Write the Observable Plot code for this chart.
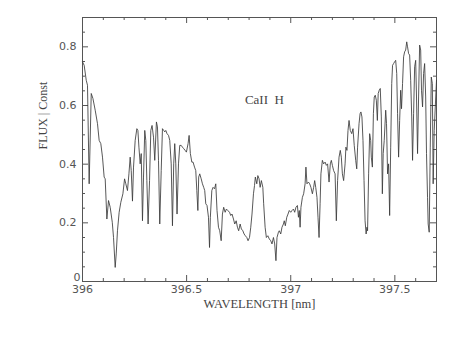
<!DOCTYPE html>
<html>
<head>
<meta charset="utf-8">
<script src="https://cdn.jsdelivr.net/npm/d3@7"></script>
<script src="https://cdn.jsdelivr.net/npm/@observablehq/plot@0.6"></script>
<style>
  html, body { margin: 0; padding: 0; background: #fff; }
  #chart svg { display: block; }
</style>
</head>
<body>
<div id="chart"></div>
<script>
const wavelength = [
396.000,396.008,396.018,396.024,396.032,396.042,396.050,396.061,396.072,396.080,
396.088,396.096,396.104,396.109,396.117,396.125,396.133,396.143,396.149,396.157,
396.162,396.168,396.176,396.184,396.194,396.202,396.208,396.216,396.223,396.229,
396.234,396.240,396.245,396.253,396.261,396.266,396.271,396.277,396.282,396.288,
396.293,396.299,396.304,396.309,396.315,396.322,396.328,396.334,396.341,396.347,
396.355,396.360,396.365,396.371,396.378,396.384,396.390,396.395,396.400,396.406,
396.413,396.419,396.426,396.432,396.438,396.443,396.448,396.454,396.461,396.467,
396.474,396.480,396.486,396.493,396.499,396.507,396.512,396.518,396.525,396.531,
396.538,396.544,396.549,396.554,396.558,396.563,396.570,396.576,396.582,396.587,
396.592,396.598,396.605,396.610,396.614,396.621,396.627,396.634,396.640,396.646,
396.653,396.659,396.666,396.672,396.678,396.685,396.691,396.698,396.706,396.712,
396.718,396.725,396.731,396.738,396.744,396.750,396.757,396.763,396.770,396.776,
396.782,396.789,396.795,396.802,396.808,396.814,396.821,396.826,396.830,396.837,
396.842,396.848,396.853,396.859,396.866,396.870,396.877,396.883,396.890,396.897,
396.904,396.910,396.917,396.923,396.929,396.934,396.941,396.945,396.952,396.958,
396.965,396.969,396.974,396.981,396.987,396.993,397.000,397.006,397.013,397.019,
397.025,397.032,397.037,397.041,397.045,397.049,397.056,397.062,397.069,397.073,
397.078,397.085,397.091,397.097,397.104,397.110,397.115,397.120,397.126,397.131,
397.136,397.141,397.145,397.152,397.158,397.165,397.171,397.177,397.184,397.190,
397.195,397.200,397.206,397.213,397.219,397.225,397.232,397.238,397.243,397.248,
397.254,397.261,397.265,397.270,397.275,397.280,397.286,397.293,397.299,397.305,
397.312,397.317,397.321,397.328,397.333,397.337,397.342,397.347,397.352,397.357,
397.362,397.366,397.369,397.374,397.379,397.384,397.387,397.392,397.397,397.401,
397.406,397.411,397.416,397.420,397.425,397.430,397.435,397.440,397.444,397.449,
397.456,397.460,397.465,397.470,397.475,397.480,397.485,397.489,397.494,397.499,
397.504,397.509,397.513,397.518,397.523,397.528,397.532,397.537,397.542,397.547,
397.552,397.557,397.561,397.566,397.571,397.576,397.581,397.585,397.590,397.595,
397.600,397.604,397.609,397.614,397.619,397.624,397.628,397.633,397.638,397.643,
397.648,397.652,397.657,397.660,397.665,397.670,397.675,397.680,397.684,397.689,
397.700
];
const flux = [
0.749,0.737,0.686,0.669,0.333,0.641,0.624,0.584,0.538,0.481,
0.470,0.424,0.356,0.350,0.213,0.276,0.253,0.202,0.150,0.048,
0.094,0.173,0.236,0.270,0.299,0.350,0.333,0.310,0.367,0.424,
0.378,0.274,0.390,0.481,0.521,0.515,0.458,0.401,0.436,0.207,
0.356,0.515,0.481,0.344,0.196,0.344,0.515,0.532,0.492,0.413,
0.544,0.527,0.413,0.196,0.378,0.521,0.515,0.510,0.515,0.504,
0.498,0.481,0.401,0.190,0.401,0.470,0.401,0.230,0.401,0.464,
0.464,0.458,0.453,0.447,0.441,0.470,0.498,0.436,0.407,0.407,
0.390,0.378,0.310,0.242,0.356,0.367,0.350,0.333,0.321,0.310,
0.265,0.259,0.219,0.116,0.219,0.310,0.321,0.316,0.333,0.242,
0.185,0.173,0.139,0.230,0.253,0.236,0.247,0.242,0.236,0.225,
0.230,0.213,0.196,0.207,0.185,0.173,0.196,0.179,0.173,0.162,
0.156,0.150,0.139,0.150,0.185,0.230,0.299,0.327,0.356,0.333,
0.361,0.350,0.321,0.344,0.321,0.265,0.185,0.150,0.156,0.145,
0.139,0.128,0.150,0.128,0.071,0.150,0.168,0.173,0.162,0.185,
0.196,0.207,0.190,0.219,0.230,0.242,0.236,0.242,0.247,0.236,
0.253,0.259,0.219,0.242,0.185,0.253,0.287,0.299,0.333,0.390,
0.333,0.339,0.333,0.321,0.299,0.321,0.344,0.321,0.287,0.219,
0.150,0.265,0.367,0.413,0.401,0.407,0.396,0.401,0.339,0.401,
0.413,0.396,0.378,0.367,0.207,0.344,0.424,0.447,0.424,0.367,
0.344,0.401,0.458,0.447,0.515,0.549,0.515,0.504,0.521,0.464,
0.413,0.384,0.458,0.538,0.572,0.578,0.561,0.481,0.344,0.207,
0.162,0.185,0.173,0.367,0.504,0.481,0.424,0.390,0.572,0.629,
0.635,0.618,0.549,0.641,0.652,0.658,0.561,0.299,0.436,0.481,
0.584,0.538,0.367,0.401,0.225,0.458,0.675,0.737,0.743,0.749,
0.754,0.709,0.572,0.424,0.549,0.652,0.589,0.675,0.766,0.783,
0.789,0.817,0.800,0.777,0.772,0.686,0.561,0.413,0.572,0.732,
0.754,0.629,0.436,0.629,0.806,0.789,0.652,0.595,0.709,0.743,
0.629,0.436,0.287,0.196,0.168,0.458,0.697,0.675,0.333,0.515,
0.686
];
const spectrum = wavelength.map((w, i) => ({wavelength: w, flux: flux[i]}));

const xMajorTicks = [396, 396.5, 397, 397.5];
const xMinorTicks = [396.1, 396.2, 396.3, 396.4, 396.6, 396.7, 396.8, 396.9, 397.1, 397.2, 397.3, 397.4, 397.6, 397.7];
const yMajorTicks = [0.2, 0.4, 0.6, 0.8];
const yZeroTick = [0];
const yMinorTicks = [0.05, 0.1, 0.15, 0.25, 0.3, 0.35, 0.45, 0.5, 0.55, 0.65, 0.7, 0.75, 0.85];
const xLabel = "WAVELENGTH [nm]";
const yLabel = "FLUX | Const";
const annotation = [{wavelength: 396.78, flux: 0.618, text: "CaII  H"}];

const W = 463, H = 346;
const mL = 82, mR = 27, mT = 17, mB = 65;
const plotH = H - mT - mB;
const plotW = W - mL - mR;
const majorLen = 6, minorLen = 3;
const ink = "#444";
const serif = "'Liberation Serif', 'DejaVu Serif', serif";
const sans = "'DejaVu Sans', sans-serif";

const fmt = d => d === 0 ? "0" : String(+d.toFixed(2));

const chart = Plot.plot({
  width: W, height: H,
  marginLeft: mL, marginRight: mR, marginTop: mT, marginBottom: mB,
  x: {domain: [396, 397.7]},
  y: {domain: [0, 0.9]},
  style: {fontFamily: serif, fontSize: "11px", color: ink, background: "#fff"},
  marks: [
    Plot.frame({stroke: "#555", strokeWidth: 1}),
    Plot.tickX(xMajorTicks, {x: d => d, insetTop: plotH - majorLen, stroke: "#555"}),
    Plot.tickX(xMajorTicks, {x: d => d, insetBottom: plotH - majorLen, stroke: "#555"}),
    Plot.tickX(xMinorTicks, {x: d => d, insetTop: plotH - minorLen, stroke: "#555"}),
    Plot.tickX(xMinorTicks, {x: d => d, insetBottom: plotH - minorLen, stroke: "#555"}),
    Plot.tickY(yMajorTicks, {y: d => d, insetRight: plotW - majorLen, stroke: "#555"}),
    Plot.tickY(yMajorTicks, {y: d => d, insetLeft: plotW - majorLen, stroke: "#555"}),
    Plot.tickY(yMinorTicks, {y: d => d, insetRight: plotW - minorLen, stroke: "#555"}),
    Plot.tickY(yMinorTicks, {y: d => d, insetLeft: plotW - minorLen, stroke: "#555"}),
    Plot.axisX({ticks: xMajorTicks, tickSize: 0, tickPadding: 4, tickFormat: fmt, label: null, fontFamily: sans, fontSize: 11, fill: "#555"}),
    Plot.axisY({ticks: yMajorTicks, tickSize: 0, tickPadding: 6, tickFormat: fmt, label: null, fontFamily: sans, fontSize: 11, fill: "#555"}),
    Plot.axisY({ticks: yZeroTick, tickSize: 0, tickPadding: 2, dy: -4, tickFormat: fmt, label: null, fontFamily: sans, fontSize: 11, fill: "#555"}),
    Plot.line(spectrum, {x: "wavelength", y: "flux", stroke: "#3a3a3a", strokeWidth: 0.85, strokeLinejoin: "round"}),
    Plot.text(annotation, {x: "wavelength", y: "flux", text: "text", textAnchor: "start", fontFamily: serif, fontSize: 13, fill: "#444"}),
    Plot.text([xLabel], {frameAnchor: "bottom", dy: 22, fontFamily: serif, fontSize: 12.5, fill: "#444", lineAnchor: "middle", letterSpacing: 0.3}),
    Plot.text([yLabel], {frameAnchor: "left", dx: -39, dy: 0, rotate: -90, fontFamily: serif, fontSize: 12, fill: "#444", lineAnchor: "middle", letterSpacing: 0.5})
  ]
});
document.getElementById("chart").appendChild(chart);
</script>
</body>
</html>
